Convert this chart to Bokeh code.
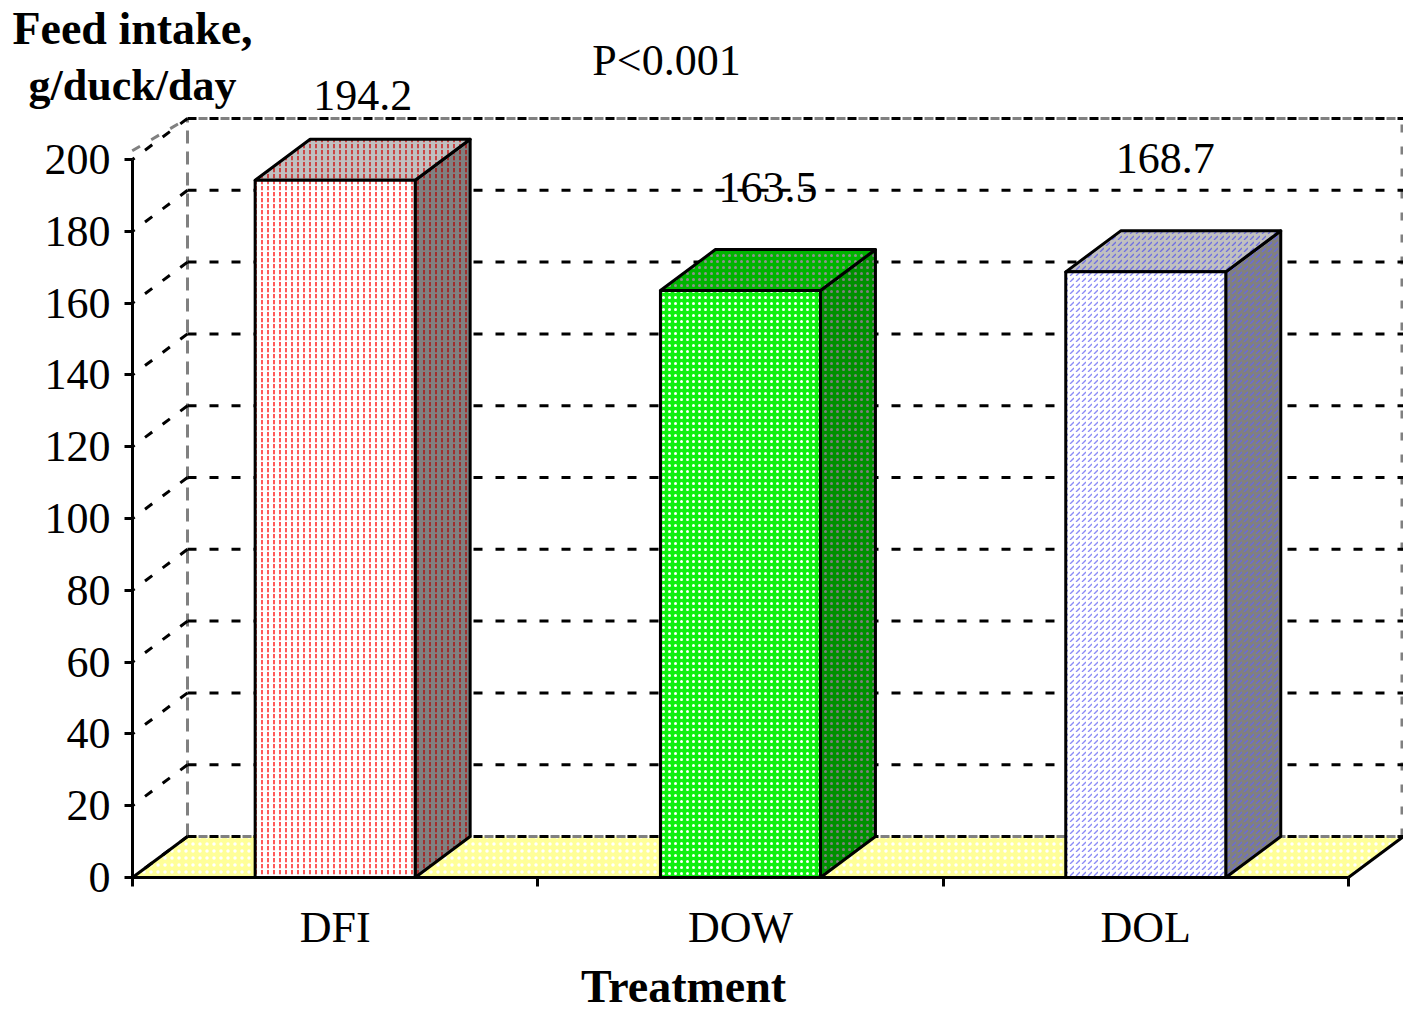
import numpy as np
from bokeh.plotting import figure
from bokeh.models import LinearAxis, FixedTicker, Label, ColumnDataSource, Range1d
from bokeh.core.properties import value
from bokeh.embed import file_html
from bokeh.resources import INLINE

# ---- data -------------------------------------------------------------
categories = ["DFI", "DOW", "DOL"]
intake = [194.2, 163.5, 168.7]          # g/duck/day
y_ticks = list(range(0, 201, 20))
y_title = ["Feed intake,", "g/duck/day"]
x_title = "Treatment"
p_text = "P<0.001"

# ---- styling ------------------------------------------------------------
label_lift = [19.5, 24.5, 27.3]         # value-label height above each bar top
label_nudge = [0, 0, -8]                # horizontal nudge of value labels, pixels
front_fill = ["white", "#10F010", "white"]
front_hatch = [":", ".", ","]
front_hcol = ["#FF0000", "white", "#8C8CF5"]
top_fill = ["#C0C0C0", "#00B400", "#C0C0C0"]
top_hcol = ["#D00000", "#909090", "#7070E0"]
side_fill = ["#808080", "#009000", "#808080"]
side_hcol = ["#B00000", "#808080", "#6A6AD8"]

FONT = "Liberation Serif"
W, H = 1403, 1015
LEFT, BOTTOM = 132, 877                  # where the front axes meet
PX_X = 405.3                             # pixels per category
PX_Y = 3.59                              # pixels per g
DX = 55 / PX_X                           # depth offset of the back wall
DY = 41 / PX_Y
BAR_W = 160 / PX_X
TEXT_SHIFT = 15                          # baseline correction, pixels
n = len(categories)


def dx(px):
    return (px - LEFT) / PX_X


def dy(py):
    return (BOTTOM - py) / PX_Y


x_end = dx(W)

p = figure(width=W, height=H, x_range=Range1d(dx(0), dx(W)), y_range=Range1d(dy(H), dy(0)),
           output_backend="svg", toolbar_location=None,
           x_axis_type=None, y_axis_type=None,
           min_border_left=0, min_border_right=0, min_border_top=0, min_border_bottom=0)
p.outline_line_color = None
p.background_fill_color = "white"
p.border_fill_color = "white"

top_v = max(y_ticks)

# ---- floor ------------------------------------------------------------------
p.patch([0, n, n + DX, DX], [0, 0, DY, DY], fill_color="#FFFF99",
        hatch_pattern=".", hatch_color="white", hatch_scale=7, hatch_weight=1,
        line_color=None)

# ---- walls: grey frame edges ----------------------------------------------
grey = "#808080"
p.segment(x0=[DX], y0=[DY], x1=[DX], y1=[top_v + DY], line_color=grey,
          line_width=3, line_dash="13 8")
p.segment(x0=[DX, DX], y0=[top_v + DY, DY], x1=[x_end, x_end], y1=[top_v + DY, DY],
          line_color=grey, line_width=3, line_dash="9 13", line_dash_offset=11)
p.segment(x0=[x_end - 1.5 / PX_X], y0=[DY], x1=[x_end - 1.5 / PX_X], y1=[top_v + DY],
          line_color=grey, line_width=3, line_dash="8 14")
p.segment(x0=[DX], y0=[top_v + DY], x1=[-6 / PX_X], y1=[top_v + 1.5],
          line_color=grey, line_width=3, line_dash="9 13", line_dash_offset=11)

# ---- gridlines on back wall and left wall --------------------------------
gv = np.array(y_ticks, dtype=float)
p.segment(x0=np.full(len(gv), DX), y0=gv + DY, x1=np.full(len(gv), x_end), y1=gv + DY,
          line_color="black", line_width=3, line_dash="9 13")
p.segment(x0=np.full(len(gv), DX), y0=gv + DY, x1=np.zeros(len(gv)), y1=gv,
          line_color="black", line_width=3, line_dash="9 13")

# floor side edges
p.segment(x0=[0, n], y0=[0, 0], x1=[DX, n + DX], y1=[DY, DY],
          line_color="black", line_width=3)

# ---- 3-D bars ---------------------------------------------------------------
v = np.array(intake, dtype=float)
xc = np.arange(n) + 0.5
L = xc - BAR_W / 2
R = xc + BAR_W / 2

side = ColumnDataSource(dict(
    xs=[[r, r + DX, r + DX, r] for r in R],
    ys=[[0, DY, vi + DY, vi] for vi in v],
    fill=side_fill, hatch=front_hatch, hcol=side_hcol))
top = ColumnDataSource(dict(
    xs=[[l, r, r + DX, l + DX] for l, r in zip(L, R)],
    ys=[[vi, vi, vi + DY, vi + DY] for vi in v],
    fill=top_fill, hatch=front_hatch, hcol=top_hcol))
front = ColumnDataSource(dict(left=L, right=R, top=v,
                              fill=front_fill, hatch=front_hatch, hcol=front_hcol))

for src in (side, top):
    p.patches("xs", "ys", source=src, fill_color="fill", hatch_pattern="hatch",
              hatch_color="hcol", hatch_scale=6, hatch_weight=1.3,
              line_color="black", line_width=3, line_join="round")
p.quad(left="left", right="right", bottom=0, top="top", source=front,
       fill_color="fill", hatch_pattern="hatch", hatch_color="hcol",
       hatch_scale=6, hatch_weight=1.3, line_color="black", line_width=3)

# value labels
lab = ColumnDataSource(dict(x=xc + DX / 2 + np.array(label_nudge) / PX_X,
                            y=v + np.array(label_lift) + TEXT_SHIFT / PX_Y,
                            t=[f"{a:.1f}" for a in intake]))
p.text(x="x", y="y", text="t", source=lab, text_font=value(FONT),
       text_font_size="44px", text_align="center", text_baseline="alphabetic",
       text_color="black")

# ---- axes (pinned to the front corner of the box) -------------------------------
yaxis = LinearAxis(ticker=FixedTicker(ticks=y_ticks), bounds=(0, top_v),
                   fixed_location=0,
                   axis_line_width=3, axis_line_color="black",
                   major_tick_line_width=3, major_tick_line_color="black",
                   major_tick_out=8, major_tick_in=0,
                   minor_tick_out=0, minor_tick_in=0,
                   major_label_text_font=FONT, major_label_text_font_size="44px",
                   major_label_text_color="black", major_label_standoff=14)
p.add_layout(yaxis, "left")

xaxis = LinearAxis(ticker=FixedTicker(ticks=list(xc), minor_ticks=list(range(n + 1))),
                   bounds=(0, n), fixed_location=0,
                   major_label_overrides={float(c): cat for c, cat in zip(xc, categories)},
                   axis_line_width=3, axis_line_color="black",
                   major_tick_out=0, major_tick_in=0,
                   minor_tick_out=9, minor_tick_in=0,
                   minor_tick_line_width=3, minor_tick_line_color="black",
                   major_label_text_font=FONT, major_label_text_font_size="44px",
                   major_label_text_color="black", major_label_standoff=16)
p.add_layout(xaxis, "below")

# ---- titles -------------------------------------------------------------------
for txt, base, size in zip(y_title, [43, 100], ["46px", "44px"]):
    p.add_layout(Label(x=dx(132), y=dy(base - TEXT_SHIFT), text=txt, text_font=FONT,
                       text_font_size=size, text_font_style="bold",
                       text_align="center", text_baseline="alphabetic",
                       text_color="black"))
p.add_layout(Label(x=dx(683), y=dy(1001 - TEXT_SHIFT), text=x_title, text_font=FONT,
                   text_font_size="46px", text_font_style="bold",
                   text_align="center", text_baseline="alphabetic", text_color="black"))
p.add_layout(Label(x=dx(666), y=dy(75 - TEXT_SHIFT), text=p_text, text_font=FONT,
                   text_font_size="44px", text_align="center",
                   text_baseline="alphabetic", text_color="black"))

open("out.html", "w").write(file_html(p, INLINE))
